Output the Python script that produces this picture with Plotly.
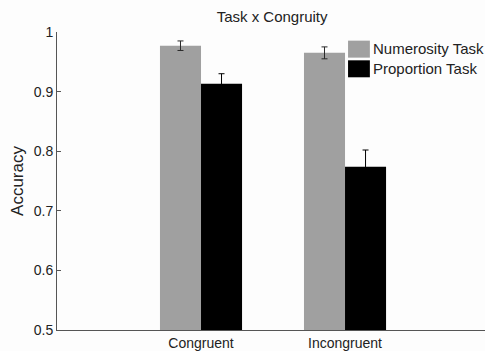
import plotly.graph_objects as go

# Mean accuracy per condition, with standard-error bars
conditions = ["Congruent", "Incongruent"]
numerosity_acc = [0.977, 0.965]
numerosity_err = [0.008, 0.010]
proportion_acc = [0.913, 0.774]
proportion_err = [0.017, 0.028]
series_names = ["Numerosity Task", "Proportion Task"]
series_colors = ["#a0a0a0", "#000000"]
errbar_colors = ["#2a2a2a", "#000000"]
y_ticks = [0.5, 0.6, 0.7, 0.8, 0.9, 1.0]
y_tick_text = ["0.5", "0.6", "0.7", "0.8", "0.9", "1"]

FONT = "Liberation Sans, Arial, sans-serif"
x_pos = [1, 2]

fig = go.Figure()
for name, vals, errs, col, ecol in [
    (series_names[0], numerosity_acc, numerosity_err, series_colors[0], errbar_colors[0]),
    (series_names[1], proportion_acc, proportion_err, series_colors[1], errbar_colors[1]),
]:
    fig.add_trace(go.Bar(
        x=x_pos, y=vals, name=name, marker=dict(color=col, line=dict(width=0)),
        error_y=dict(type="data", array=errs, color=ecol, thickness=1, width=3),
        showlegend=False,
    ))

# Legend drawn as large square swatches with labels, top-right inside the axes
legend_items = [(series_names[0], series_colors[0], 0.971), (series_names[1], series_colors[1], 0.905)]
for name, col, ytop in legend_items:
    fig.add_shape(type="rect", xref="paper", yref="paper",
                  x0=0.680, x1=0.731, y0=ytop - 0.057, y1=ytop,
                  fillcolor=col, line=dict(width=0))
    fig.add_annotation(text=name, xref="paper", yref="paper",
                       x=0.733, y=ytop - 0.028, xanchor="left", yanchor="middle",
                       showarrow=False, font=dict(family=FONT, size=15, color="#222222"))

fig.update_layout(
    width=485, height=351,
    margin=dict(l=57, r=0, t=32, b=21),
    paper_bgcolor="#fdfdfd", plot_bgcolor="#fdfdfd",
    barmode="group", bargap=0.43, bargroupgap=0,
    title=dict(text="Task x Congruity", x=0.561, xanchor="center", y=0.952, yanchor="middle",
               font=dict(family=FONT, size=15, color="#222222")),
    font=dict(family=FONT, color="#222222"),
)
fig.update_xaxes(
    range=[0, 2.972], tickvals=x_pos, ticktext=conditions, ticks="",
    showline=True, linecolor="#555555", linewidth=1, showgrid=False, zeroline=False,
    tickfont=dict(family=FONT, size=14, color="#222222"),
)
fig.update_yaxes(
    range=[0.5, 1.0], tickvals=y_ticks, ticktext=y_tick_text, ticks="inside", ticklen=4,
    tickcolor="#555555", showline=True, linecolor="#555555", linewidth=1,
    showgrid=False, zeroline=False,
    tickfont=dict(family=FONT, size=14, color="#222222"),
    title=dict(text="Accuracy", font=dict(family=FONT, size=17, color="#222222"), standoff=5),
)

fig.write_html("out.html")
